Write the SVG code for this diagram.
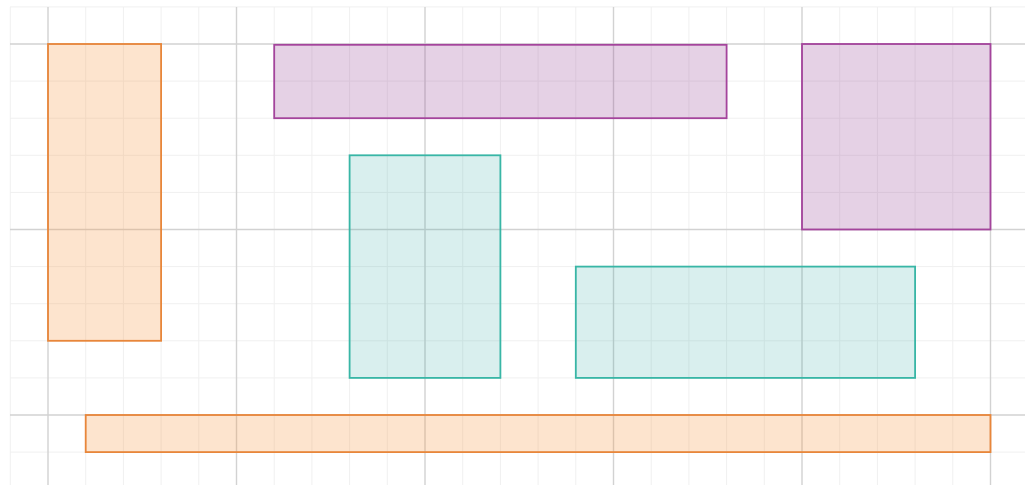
<svg xmlns="http://www.w3.org/2000/svg" width="1025" height="485" viewBox="0 0 1025 485">
<style>
.minor{stroke:#f0f0f0;stroke-width:1;fill:none}
.major{stroke:#d2d2d2;stroke-width:1.4;fill:none}
.orange rect{fill:#f99a4a;fill-opacity:0.27;stroke:#e8863a;stroke-width:1.8}
.purple rect{fill:#9b4f9b;fill-opacity:0.26;stroke:#a4449c;stroke-width:1.8}
.teal rect{fill:#2aa9a0;fill-opacity:0.18;stroke:#38b6a6;stroke-width:1.8}
</style>
<rect width="1025" height="485" fill="#ffffff"/>
<g id="grid">
<g class="minor">
<path d="M10.3 7V485M85.7 7V485M123.4 7V485M161.1 7V485M198.8 7V485M274.2 7V485M311.9 7V485M349.6 7V485M387.3 7V485M462.7 7V485M500.4 7V485M538.1 7V485M575.8 7V485M651.2 7V485M688.9 7V485M726.6 7V485M764.3 7V485M839.7 7V485M877.4 7V485M915.1 7V485M952.8 7V485"/>
<path d="M10 6.9H1025M10 81.1H1025M10 118.2H1025M10 155.3H1025M10 192.4H1025M10 266.6H1025M10 303.7H1025M10 340.8H1025M10 377.9H1025M10 452.1H1025"/>
</g>
<g class="major">
<path d="M48 7V485M236.5 7V485M425 7V485M613.5 7V485M802 7V485M990.5 7V485"/>
<path d="M10 44H1025M10 229.5H1025M10 415H1025"/>
</g>
</g>
<g id="connectors"></g>
<g id="orange-tall" class="orange"><rect x="48" y="44" width="113.1" height="296.8"/></g>
<g id="orange-bottom" class="orange"><rect x="85.7" y="415" width="904.8" height="37.1"/></g>
<g id="purple-top" class="purple"><rect x="274.2" y="44.8" width="452.4" height="73.4"/></g>
<g id="purple-right" class="purple"><rect x="802" y="44" width="188.5" height="185.5"/></g>
<g id="teal-left" class="teal"><rect x="349.6" y="155.3" width="150.8" height="222.6"/></g>
<g id="teal-right" class="teal"><rect x="575.8" y="266.6" width="339.3" height="111.3"/></g>
</svg>
